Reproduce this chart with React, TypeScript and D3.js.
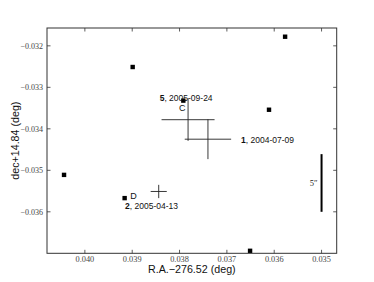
import * as d3 from 'd3';

// reference stars (squares)
const starRa = [0.03899, 0.03577, 0.03611, 0.03792, 0.04044, 0.03916, 0.03651];
const starDec = [-0.03251, -0.03178, -0.03354, -0.03332, -0.03511, -0.03567, -0.03694];

// epoch positions with errors
const epochRa = [0.03782, 0.0374, 0.03844];
const epochDec = [-0.03378, -0.03425, -0.03551];
const raErr = [0.00056, 0.00049, 0.00017];
const decErr = [0.00051, 0.00048, 0.00016];

const xTicks = [0.04, 0.039, 0.038, 0.037, 0.036, 0.035];
const yTicks = [-0.032, -0.033, -0.034, -0.035, -0.036];

// annotations: [ra, dec, bold part, rest]
const notes: [number, number, string, string][] = [
  [0.03842, -0.03334, '5', ', 2005-09-24'],
  [0.0367, -0.03433, '1', ', 2004-07-09'],
  [0.03915, -0.03594, '2', ', 2005-04-13'],
];
const letters: [number, number, string][] = [
  [0.03801, -0.03357, 'C'],
  [0.03904, -0.0357, 'D'],
];

const scaleBarRa = 0.035;
const scaleBarDec = [-0.03461, -0.036];

const W = 374;
const H = 282;
const m = { left: 47, right: 37.3, top: 28, bottom: 28.7 };

const App = () => {
  const x = d3.scaleLinear([0.0408, 0.03468], [m.left, W - m.right]);
  const y = d3.scaleLinear([-0.03157, -0.037], [m.top, H - m.bottom]);
  const [x0, x1] = x.range();
  const [y0, y1] = y.range();
  const tl = 3.5;
  const fmt = (v: number) => d3.format('.3f')(v).replace('-', '\u2212');
  const serif = '"Liberation Serif", serif';
  const sans = '"Liberation Sans", Arial, sans-serif';

  return (
    <svg width={W} height={H} style={{ position: 'absolute', left: 0, top: 0 }}>
      <rect width={W} height={H} fill="#fff" />
      {/* errorbar crosses */}
      {epochRa.map((r, i) => (
        <g key={'e' + i} stroke="#222" strokeWidth={0.9}>
          <line x1={x(r + raErr[i])} x2={x(r - raErr[i])} y1={y(epochDec[i])} y2={y(epochDec[i])} />
          <line x1={x(r)} x2={x(r)} y1={y(epochDec[i] + decErr[i])} y2={y(epochDec[i] - decErr[i])} />
        </g>
      ))}
      {starRa.map((r, i) => (
        <rect key={'s' + i} x={x(r) - 2.2} y={y(starDec[i]) - 2.2} width={4.4} height={4.4} fill="#000" />
      ))}
      {notes.map(([r, d, b, t], i) => (
        <text key={'n' + i} x={x(r)} y={y(d)} fontFamily={sans} fontSize={8.5} fill="#111">
          <tspan fontWeight="bold">{b}</tspan>
          {t}
        </text>
      ))}
      {letters.map(([r, d, t], i) => (
        <text key={'l' + i} x={x(r)} y={y(d)} fontFamily={sans} fontSize={9} fill="#111">
          {t}
        </text>
      ))}
      {/* 5 arcsec scale bar */}
      <line x1={x(scaleBarRa)} x2={x(scaleBarRa)} y1={y(scaleBarDec[0])} y2={y(scaleBarDec[1])} stroke="#000" strokeWidth={2} />
      <text x={x(scaleBarRa) - 4} y={y(-0.03539)} textAnchor="end" fontFamily={serif} fontSize={8.5} fill="#222">
        5″
      </text>
      {/* frame */}
      <rect x={x0} y={y0} width={x1 - x0} height={y1 - y0} fill="none" stroke="#333" strokeWidth={1} />
      {xTicks.map((t) => (
        <g key={'xt' + t} stroke="#333" strokeWidth={0.8}>
          <line x1={x(t)} x2={x(t)} y1={y1} y2={y1 - tl} />
          <line x1={x(t)} x2={x(t)} y1={y0} y2={y0 + tl} />
        </g>
      ))}
      {yTicks.map((t) => (
        <g key={'yt' + t} stroke="#333" strokeWidth={0.8}>
          <line x1={x0} x2={x0 + tl} y1={y(t)} y2={y(t)} />
          <line x1={x1} x2={x1 - tl} y1={y(t)} y2={y(t)} />
        </g>
      ))}
      {xTicks.map((t) => (
        <text key={'xl' + t} x={x(t)} y={y1 + 8.8} textAnchor="middle" fontFamily={serif} fontSize={8.3} fill="#444">
          {fmt(t)}
        </text>
      ))}
      {yTicks.map((t) => (
        <text key={'yl' + t} x={x0 - 4} y={y(t) + 2.8} textAnchor="end" fontFamily={serif} fontSize={8} fill="#444">
          {fmt(t)}
        </text>
      ))}
      <text x={(x0 + x1) / 2} y={273} textAnchor="middle" fontFamily={sans} fontSize={10.7} fill="#111">
        R.A.−276.52 (deg)
      </text>
      <text
        transform={`translate(18.5,${(y0 + y1) / 2}) rotate(-90)`}
        textAnchor="middle"
        fontFamily={sans}
        fontSize={10.7}
        fill="#111"
      >
        dec+14.84 (deg)
      </text>
    </svg>
  );
};

export default App;
